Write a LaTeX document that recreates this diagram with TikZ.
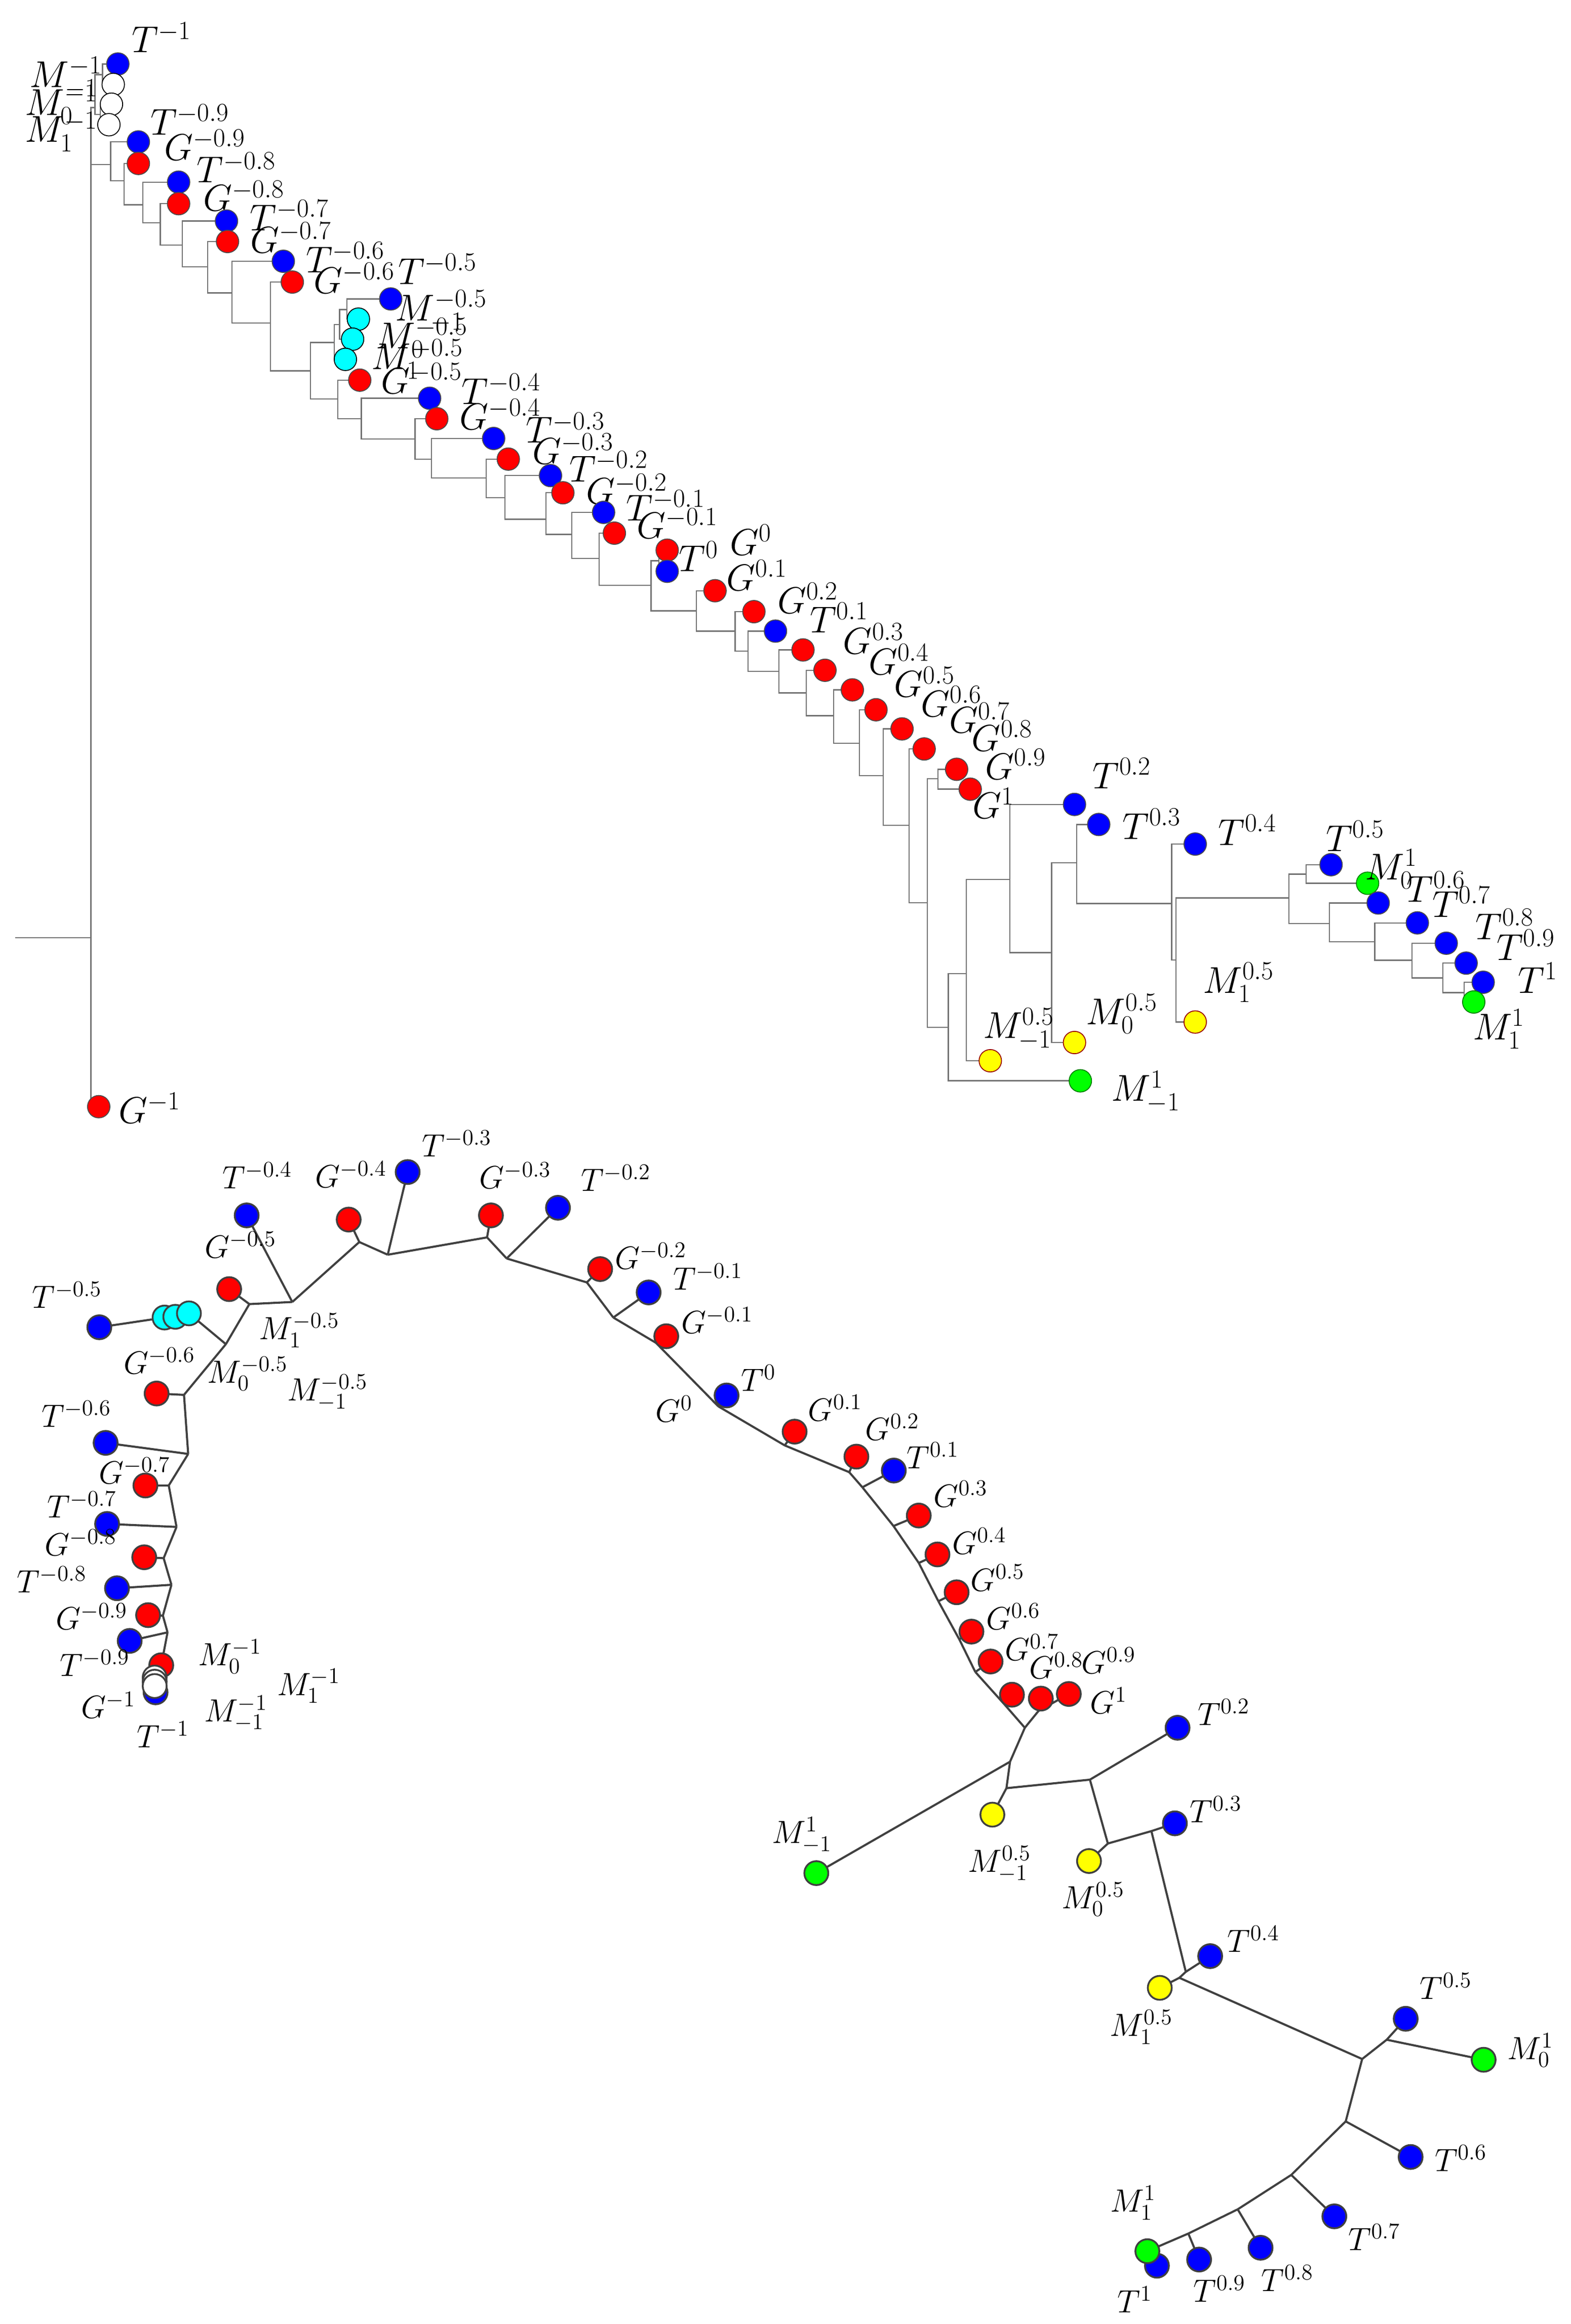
\RequirePackage{fix-cm}
\documentclass[tikz,border=0pt]{standalone}
\usetikzlibrary{backgrounds}
\definecolor{cB}{RGB}{0,0,255}
\definecolor{cR}{RGB}{255,0,0}
\definecolor{cC}{RGB}{0,255,255}
\definecolor{cY}{RGB}{255,255,0}
\definecolor{cG}{RGB}{0,255,0}
\newcommand\LF[5]{\node[#1] (#2) at (#3) {}; \node[lab] (#2l) at (#4) {$#5$};}
\newcommand\BL[5]{\node[#1] (#2) at (#3) {}; \node[blab] (#2l) at (#4) {$#5$};}
\begin{document}
\begin{tikzpicture}[x=1pt,y=-1pt,
  dot/.style={circle,minimum size=15pt,inner sep=0pt,draw=black!70,line width=0.6pt},
  tb/.style={dot,fill=cB}, tr/.style={dot,fill=cR}, tc/.style={dot,fill=cC,draw=black},
  ty/.style={dot,fill=cY,draw=red!60!black}, tg/.style={dot,fill=cG,draw=green!50!black},
  tw/.style={dot,fill=white,draw=black},
  bdot/.style={minimum size=16pt,line width=1.2pt,draw=black!75},
  lab/.style={font=\fontsize{25}{29}\selectfont,inner sep=0pt},
  blab/.style={font=\fontsize{21.5}{25}\selectfont,inner sep=0pt},
  te/.style={draw=black!55,line width=0.8pt},
  be/.style={draw=black!75,line width=1.4pt}]
\useasboundingbox (0,0) rectangle (1050,1554);
% ---------------- top tree leaves
\LF{tb}{tm10}{78.8,42.8}{108,25}{T^{-1}}
\LF{tw}{w1}{75.7,56.5}{44,52}{M^{-1}_{-1}}
\LF{tw}{w2}{74.5,69.7}{41,70}{M^{-1}_{0}}
\LF{tw}{w3}{72.8,83.4}{41,88}{M^{-1}_{1}}
\LF{tb}{tm09}{92.5,94.9}{127,80}{T^{-0.9}}
\LF{tr}{gm09}{92.5,109.3}{137,97}{G^{-0.9}}
\LF{tb}{tm08}{119.4,121.8}{158,112}{T^{-0.8}}
\LF{tr}{gm08}{119.4,136.2}{163,131}{G^{-0.8}}
\LF{tb}{tm07}{151.4,147.8}{193.5,144}{T^{-0.7}}
\LF{tr}{gm07}{152.1,161.5}{194.5,159}{G^{-0.7}}
\LF{tb}{tm06}{189.4,174.7}{231,172}{T^{-0.6}}
\LF{tr}{gm06}{195.4,188.6}{237,186}{G^{-0.6}}
\LF{tb}{tm05}{261.2,199.9}{292.5,180}{T^{-0.5}}
\LF{tc}{c1}{239.6,213.4}{295,208}{M^{-0.5}_{-1}}
\LF{tc}{c2}{235.7,226.8}{282,226}{M^{-0.5}_{0}}
\LF{tc}{c3}{230.9,240.3}{279,240}{M^{-0.5}_{1}}
\LF{tr}{gm05}{240.5,254.2}{282,253}{G^{-0.5}}
\LF{tb}{tm04}{287.2,266.3}{335,260}{T^{-0.4}}
\LF{tr}{gm04}{292,280}{334.5,277}{G^{-0.4}}
\LF{tb}{tm03}{330,293.2}{378,286}{T^{-0.3}}
\LF{tr}{gm03}{339.8,307}{383,300}{G^{-0.3}}
\LF{tb}{tm02}{368,318}{407,312}{T^{-0.2}}
\LF{tr}{gm02}{376.3,329.5}{419,327}{G^{-0.2}}
\LF{tb}{tm01}{403.5,342.6}{445,338}{T^{-0.1}}
\LF{tr}{gm01}{410.7,356.5}{453,350}{G^{-0.1}}
\LF{tr}{g0}{446,367.9}{502,361}{G^{0}}
\LF{tb}{t0}{446,382}{467,372}{T^{0}}
\LF{tr}{g01}{478,395}{506,384.6}{G^{0.1}}
\LF{tr}{g02}{504,409}{540,400}{G^{0.2}}
\LF{tb}{t01}{518.4,422}{561,413}{T^{0.1}}
\LF{tr}{g03}{536.8,434.6}{584,427}{G^{0.3}}
\LF{tr}{g04}{551.5,448.2}{601,441}{G^{0.4}}
\LF{tr}{g05}{569.8,461.3}{618,456}{G^{0.5}}
\LF{tr}{g06}{585.6,474.6}{636,469}{G^{0.6}}
\LF{tr}{g07}{603,487.4}{655,480}{G^{0.7}}
\LF{tr}{g08}{617.8,500.8}{670,492}{G^{0.8}}
\LF{tr}{g09}{639.5,514.4}{679,511}{G^{0.9}}
\LF{tr}{g1}{648.6,527.7}{664,537}{G^{1}}
\LF{tb}{t02}{718.3,537.9}{750,517}{T^{0.2}}
\LF{tb}{t03}{734.5,551.3}{770,551}{T^{0.3}}
\LF{tb}{t04}{799,564.4}{834,555}{T^{0.4}}
\LF{tb}{t05}{889.8,578.2}{906,559}{T^{0.5}}
\LF{tg}{m01}{914.2,590.6}{930,581}{M^{1}_{0}}
\LF{tb}{t06}{921.3,603.8}{960,593}{T^{0.6}}
\LF{tb}{t07}{947.5,617.1}{977,603}{T^{0.7}}
\LF{tb}{t08}{966.8,630.7}{1006,618}{T^{0.8}}
\LF{tb}{t09}{980.1,644}{1020,632}{T^{0.9}}
\LF{tb}{t1}{991.5,656.8}{1028,654}{T^{1}}
\LF{tg}{m11}{985.2,670}{1002,688}{M^{1}_{1}}
\LF{ty}{m105}{799,683.4}{828,657}{M^{0.5}_{1}}
\LF{ty}{m005}{718.3,697.1}{750,678}{M^{0.5}_{0}}
\LF{ty}{mm05}{662,709.3}{681,688}{M^{0.5}_{-1}}
\LF{tg}{mm1}{722.2,722.7}{766,730}{M^{1}_{-1}}
\LF{tr}{gm1}{66,740}{100,741}{G^{-1}}
% top internal nodes
\coordinate (R0) at (10,627); \coordinate (R) at (60.8,627);
\coordinate (W) at (63.5,72); \coordinate (A) at (68.5,50); \coordinate (C) at (67,76.5);
\coordinate (N1) at (74,110); \coordinate (N2) at (82.9,120.9); \coordinate (N3) at (95.4,137);
\coordinate (N4) at (107.2,149); \coordinate (N5) at (121.8,163.9); \coordinate (N6) at (138.9,178.5);
\coordinate (N7) at (155,195.8); \coordinate (N8) at (180.7,216); \coordinate (N9) at (207.6,248);
\coordinate (X3) at (223.5,229); \coordinate (X2) at (227,217); \coordinate (X1) at (232,207);
\coordinate (N10) at (225.9,266.7); \coordinate (N11) at (241.5,280); \coordinate (N12) at (277.5,293.6);
\coordinate (N13) at (288.4,307); \coordinate (N14) at (325,319.6); \coordinate (N15) at (337.6,332.8);
\coordinate (N16) at (365,347.2); \coordinate (N17) at (382.3,357.3); \coordinate (N18) at (400.6,373.5);
\coordinate (N19) at (435.2,391.4); \coordinate (N20) at (440.5,375); \coordinate (N21) at (465.5,408.5);
\coordinate (N22) at (491.4,422); \coordinate (N23) at (500,435.4); \coordinate (N24) at (520.7,449);
\coordinate (N25) at (539,463.3); \coordinate (N26) at (557.3,478.6); \coordinate (N27) at (574.6,497.1);
\coordinate (N28) at (590.4,518.7); \coordinate (N29) at (607.7,551.9); \coordinate (N30) at (620,603.6);
\coordinate (N31) at (627,520.6); \coordinate (N32) at (634,687); \coordinate (N33) at (646,651);
\coordinate (N34) at (675,588); \coordinate (N35) at (703,637); \coordinate (N36) at (719.7,576.8);
\coordinate (N37) at (783.3,604.1); \coordinate (N38) at (786.2,642); \coordinate (N39) at (861.7,600.4);
\coordinate (N40) at (873.1,584.5); \coordinate (N41) at (888.7,617.5); \coordinate (N42) at (919,629.7);
\coordinate (N43) at (943.8,642.1); \coordinate (N44) at (964.5,653.9); \coordinate (N45) at (978.7,663.7);
% ---------------- bottom tree leaves
\BL{tb,bdot}{Btm05}{66.4,887.5}{44.8,865.8}{T^{-0.5}}
\BL{tc,bdot}{Bc1}{110,881}{200,889.5}{M^{-0.5}_{1}}
\BL{tc,bdot}{Bc2}{117.2,880.5}{165.4,918.6}{M^{-0.5}_{0}}
\BL{tc,bdot}{Bc3}{126.3,878.2}{218.8,931.3}{M^{-0.5}_{-1}}
\BL{tr,bdot}{Bgm06}{104.7,931.8}{106.5,909.8}{G^{-0.6}}
\BL{tb,bdot}{Btm06}{70.6,964.8}{51,945.4}{T^{-0.6}}
\BL{tr,bdot}{Bgm07}{97.2,993.3}{89.9,983.5}{G^{-0.7}}
\BL{tb,bdot}{Btm07}{71.6,1019}{54.7,1006}{T^{-0.7}}
\BL{tr,bdot}{Bgm08}{96.4,1041.3}{53.9,1031.4}{G^{-0.8}}
\BL{tb,bdot}{Btm08}{78.2,1062}{34.6,1056.3}{T^{-0.8}}
\BL{tr,bdot}{Bgm09}{99,1080}{61.2,1080.8}{G^{-0.9}}
\BL{tb,bdot}{Btm09}{86.7,1097.2}{63.3,1111.9}{T^{-0.9}}
\BL{tr,bdot}{Bgm1}{107.8,1113.5}{72.4,1140}{G^{-1}}
\BL{tb,bdot}{Btm1}{104,1131.6}{108.9,1159.8}{T^{-1}}
\BL{tw,bdot}{Bw1}{103.4,1121.7}{153.7,1107.6}{M^{-1}_{0}}
\BL{tw,bdot}{Bw2}{103.4,1124.5}{206.3,1127.4}{M^{-1}_{1}}
\BL{tw,bdot}{Bw3}{103.4,1127.4}{157.6,1145.7}{M^{-1}_{-1}}
\BL{tr,bdot}{Bgm05}{153.2,862}{160.7,832.5}{G^{-0.5}}
\BL{tb,bdot}{Btm04}{164.9,812.7}{172,786}{T^{-0.4}}
\BL{tr,bdot}{Bgm04}{233.1,815.5}{234.5,785.4}{G^{-0.4}}
\BL{tb,bdot}{Btm03}{272.5,783.7}{305.3,764.8}{T^{-0.3}}
\BL{tr,bdot}{Bgm03}{328.2,812.7}{344.4,786}{G^{-0.3}}
\BL{tb,bdot}{Btm02}{373,807.6}{411.7,787.6}{T^{-0.2}}
\BL{tr,bdot}{Bgm02}{401.2,848.6}{435,839.7}{G^{-0.2}}
\BL{tb,bdot}{Btm01}{433.6,864.2}{473.2,853.6}{T^{-0.1}}
\BL{tr,bdot}{Bgm01}{445.4,893.5}{479.5,883}{G^{-0.1}}
\BL{tb,bdot}{Bt0}{485.7,933.1}{507,921.3}{T^{0}}
\node[blab] (Bg0l) at (450.6,942.2) {$G^{0}$};
\BL{tr,bdot}{Bg01}{531.2,957.3}{558.3,941.3}{G^{0.1}}
\BL{tr,bdot}{Bg02}{572.5,974}{596.5,954.3}{G^{0.2}}
\BL{tb,bdot}{Bt01}{597.5,983.3}{623.6,973.4}{T^{0.1}}
\BL{tr,bdot}{Bg03}{614.2,1013.4}{642.1,999}{G^{0.3}}
\BL{tr,bdot}{Bg04}{626.7,1039.4}{654.6,1030.3}{G^{0.4}}
\BL{tr,bdot}{Bg05}{639.5,1064.7}{666.8,1055}{G^{0.5}}
\BL{tr,bdot}{Bg06}{649.4,1091}{677.3,1081}{G^{0.6}}
\BL{tr,bdot}{Bg07}{662.2,1111}{689.8,1101.4}{G^{0.7}}
\BL{tr,bdot}{Bg08}{676.5,1133.2}{706,1113.6}{G^{0.8}}
\BL{tr,bdot}{Bg09}{695.8,1135.8}{741.1,1110.3}{G^{0.9}}
\BL{tr,bdot}{Bg1}{714.5,1132.7}{741.1,1137}{G^{1}}
\BL{tb,bdot}{Bt02}{787.2,1155.3}{818,1145}{T^{0.2}}
\BL{tb,bdot}{Bt03}{785.4,1219.2}{812.7,1210}{T^{0.3}}
\BL{tg,bdot}{Bmm1}{545.7,1252.5}{536,1227}{M^{1}_{-1}}
\BL{ty,bdot}{Bmm05}{663.4,1213.4}{668.1,1246.5}{M^{0.5}_{-1}}
\BL{ty,bdot}{Bm005}{728,1244.4}{730.7,1270}{M^{0.5}_{0}}
\BL{tb,bdot}{Bt04}{809,1308}{837.9,1296.7}{T^{0.4}}
\BL{ty,bdot}{Bm105}{775.3,1329.2}{762.9,1355.5}{M^{0.5}_{1}}
\BL{tb,bdot}{Bt05}{939.7,1349.9}{966.5,1328}{T^{0.5}}
\BL{tg,bdot}{Bm01}{991.8,1377.3}{1023.1,1370.9}{M^{1}_{0}}
\BL{tb,bdot}{Bt06}{943,1442.3}{976.5,1443.1}{T^{0.6}}
\BL{tb,bdot}{Bt07}{892,1482}{918.7,1496}{T^{0.7}}
\BL{tb,bdot}{Bt08}{842.7,1503}{860.6,1523.5}{T^{0.8}}
\BL{tb,bdot}{Bt09}{801.6,1510.9}{815.2,1530.5}{T^{0.9}}
\BL{tb,bdot}{Bt1}{773.4,1515}{758.6,1537.5}{T^{1}}
\BL{tg,bdot}{Bm11}{767,1505.3}{757.4,1473}{M^{1}_{1}}
% bottom internal nodes
\foreach \n/\p in {b1/{166.7,872},b2/{195.4,870.6},b3/{151,898.8},b4/{240.2,830.5},b5/{259.2,839},
  b6/{325.6,827.4},b7/{338.7,841.5},b8/{392.3,857.5},b9/{410,881},b10/{438.5,897.9},b11/{480.2,940.4},
  b12/{524.6,966.5},b13/{567.7,984.4},b14/{576.5,994.5},b15/{597.3,1020.4},b16/{614.2,1045.1},
  b17/{627.3,1070.7},b18/{641.3,1096.2},b19/{652,1118},b20/{671.5,1139.7},b21/{685.1,1155.3},
  b22/{694.2,1144.1},b23/{675.2,1178},b24/{672.8,1195.7},b25/{728.6,1190},b26/{740.6,1232.7},
  b27/{769.7,1224.4},b28/{792.7,1318.5},b29/{788.4,1322.5},b30/{910.6,1376.8},b31/{927,1363.9},
  b32/{899.6,1418.5},b33/{863.2,1454.3},b34/{827.4,1477.3},b35/{794.4,1493.5},b36/{123,932.7},
  b37/{125.8,972.2},b38/{112.8,993.3},b39/{118,1021},b40/{109.4,1041.9},b41/{114.6,1059.7},
  b42/{108.9,1080.3},b43/{112,1091.5}}
  \coordinate (\n) at (\p);
% ---------------- edges on background
\begin{scope}[on background layer]
\draw[te] (R0) -- (R);
\foreach \a/\b in {R/W,R/N1,R/gm1,W/A,W/C,A/tm10,A/w1,C/w2,C/w3,N1/tm09,N1/N2,N2/gm09,N2/N3,
  N3/tm08,N3/N4,N4/gm08,N4/N5,N5/tm07,N5/N6,N6/gm07,N6/N7,N7/tm06,N7/N8,N8/gm06,N8/N9,
  N9/X3,N9/N10,X3/X2,X3/c3,X2/X1,X2/c2,X1/tm05,X1/c1,N10/gm05,N10/N11,N11/tm04,N11/N12,
  N12/gm04,N12/N13,N13/tm03,N13/N14,N14/gm03,N14/N15,N15/tm02,N15/N16,N16/gm02,N16/N17,
  N17/tm01,N17/N18,N18/gm01,N18/N19,N19/N20,N19/N21,N20/g0,N20/t0,N21/g01,N21/N22,
  N22/g02,N22/N23,N23/t01,N23/N24,N24/g03,N24/N25,N25/g04,N25/N26,N26/g05,N26/N27,
  N27/g06,N27/N28,N28/g07,N28/N29,N29/g08,N29/N30,N30/N31,N30/N32,N31/g09,N31/g1,
  N32/N33,N32/mm1,N33/N34,N33/mm05,N34/t02,N34/N35,N35/N36,N35/m005,N36/t03,N36/N37,
  N37/t04,N37/N38,N38/N39,N38/m105,N39/N40,N39/N41,N40/t05,N40/m01,N41/t06,N41/N42,
  N42/t07,N42/N43,N43/t08,N43/N44,N44/t09,N44/N45,N45/t1,N45/m11}
  \draw[te] (\a) |- (\b.center);
\foreach \a/\b in {b1/Bgm05,b1/b2,b1/b3,b2/Btm04,b2/b4,b4/Bgm04,b4/b5,b5/Btm03,b5/b6,
  b6/Bgm03,b6/b7,b7/Btm02,b7/b8,b8/Bgm02,b8/b9,b9/Btm01,b9/b10,b10/Bgm01,b10/b11,
  b11/Bt0,b11/b12,b12/Bg01,b12/b13,b13/Bg02,b13/b14,b14/Bt01,b14/b15,b15/Bg03,b15/b16,
  b16/Bg04,b16/b17,b17/Bg05,b17/b18,b18/Bg06,b18/b19,b19/Bg07,b19/b20,b20/Bg08,b20/b21,
  b21/b22,b21/b23,b22/Bg09,b22/Bg1,b23/Bmm1,b23/b24,b24/Bmm05,b24/b25,b25/Bt02,b25/b26,
  b26/Bm005,b26/b27,b27/Bt03,b27/b28,b28/Bt04,b28/b29,b29/Bm105,b29/b30,b30/b31,b30/b32,
  b31/Bt05,b31/Bm01,b32/Bt06,b32/b33,b33/Bt07,b33/b34,b34/Bt08,b34/b35,b35/Bt09,b35/Bm11,
  b3/Bc3,Bc1/Btm05,b3/b36,b36/Bgm06,b36/b37,b37/Btm06,b37/b38,b38/Bgm07,b38/b39,
  b39/Btm07,b39/b40,b40/Bgm08,b40/b41,b41/Btm08,b41/b42,b42/Bgm09,b42/b43,b43/Btm09,b43/Bgm1}
  \draw[be] (\a) -- (\b.center);
\end{scope}
\end{tikzpicture}
\end{document}
